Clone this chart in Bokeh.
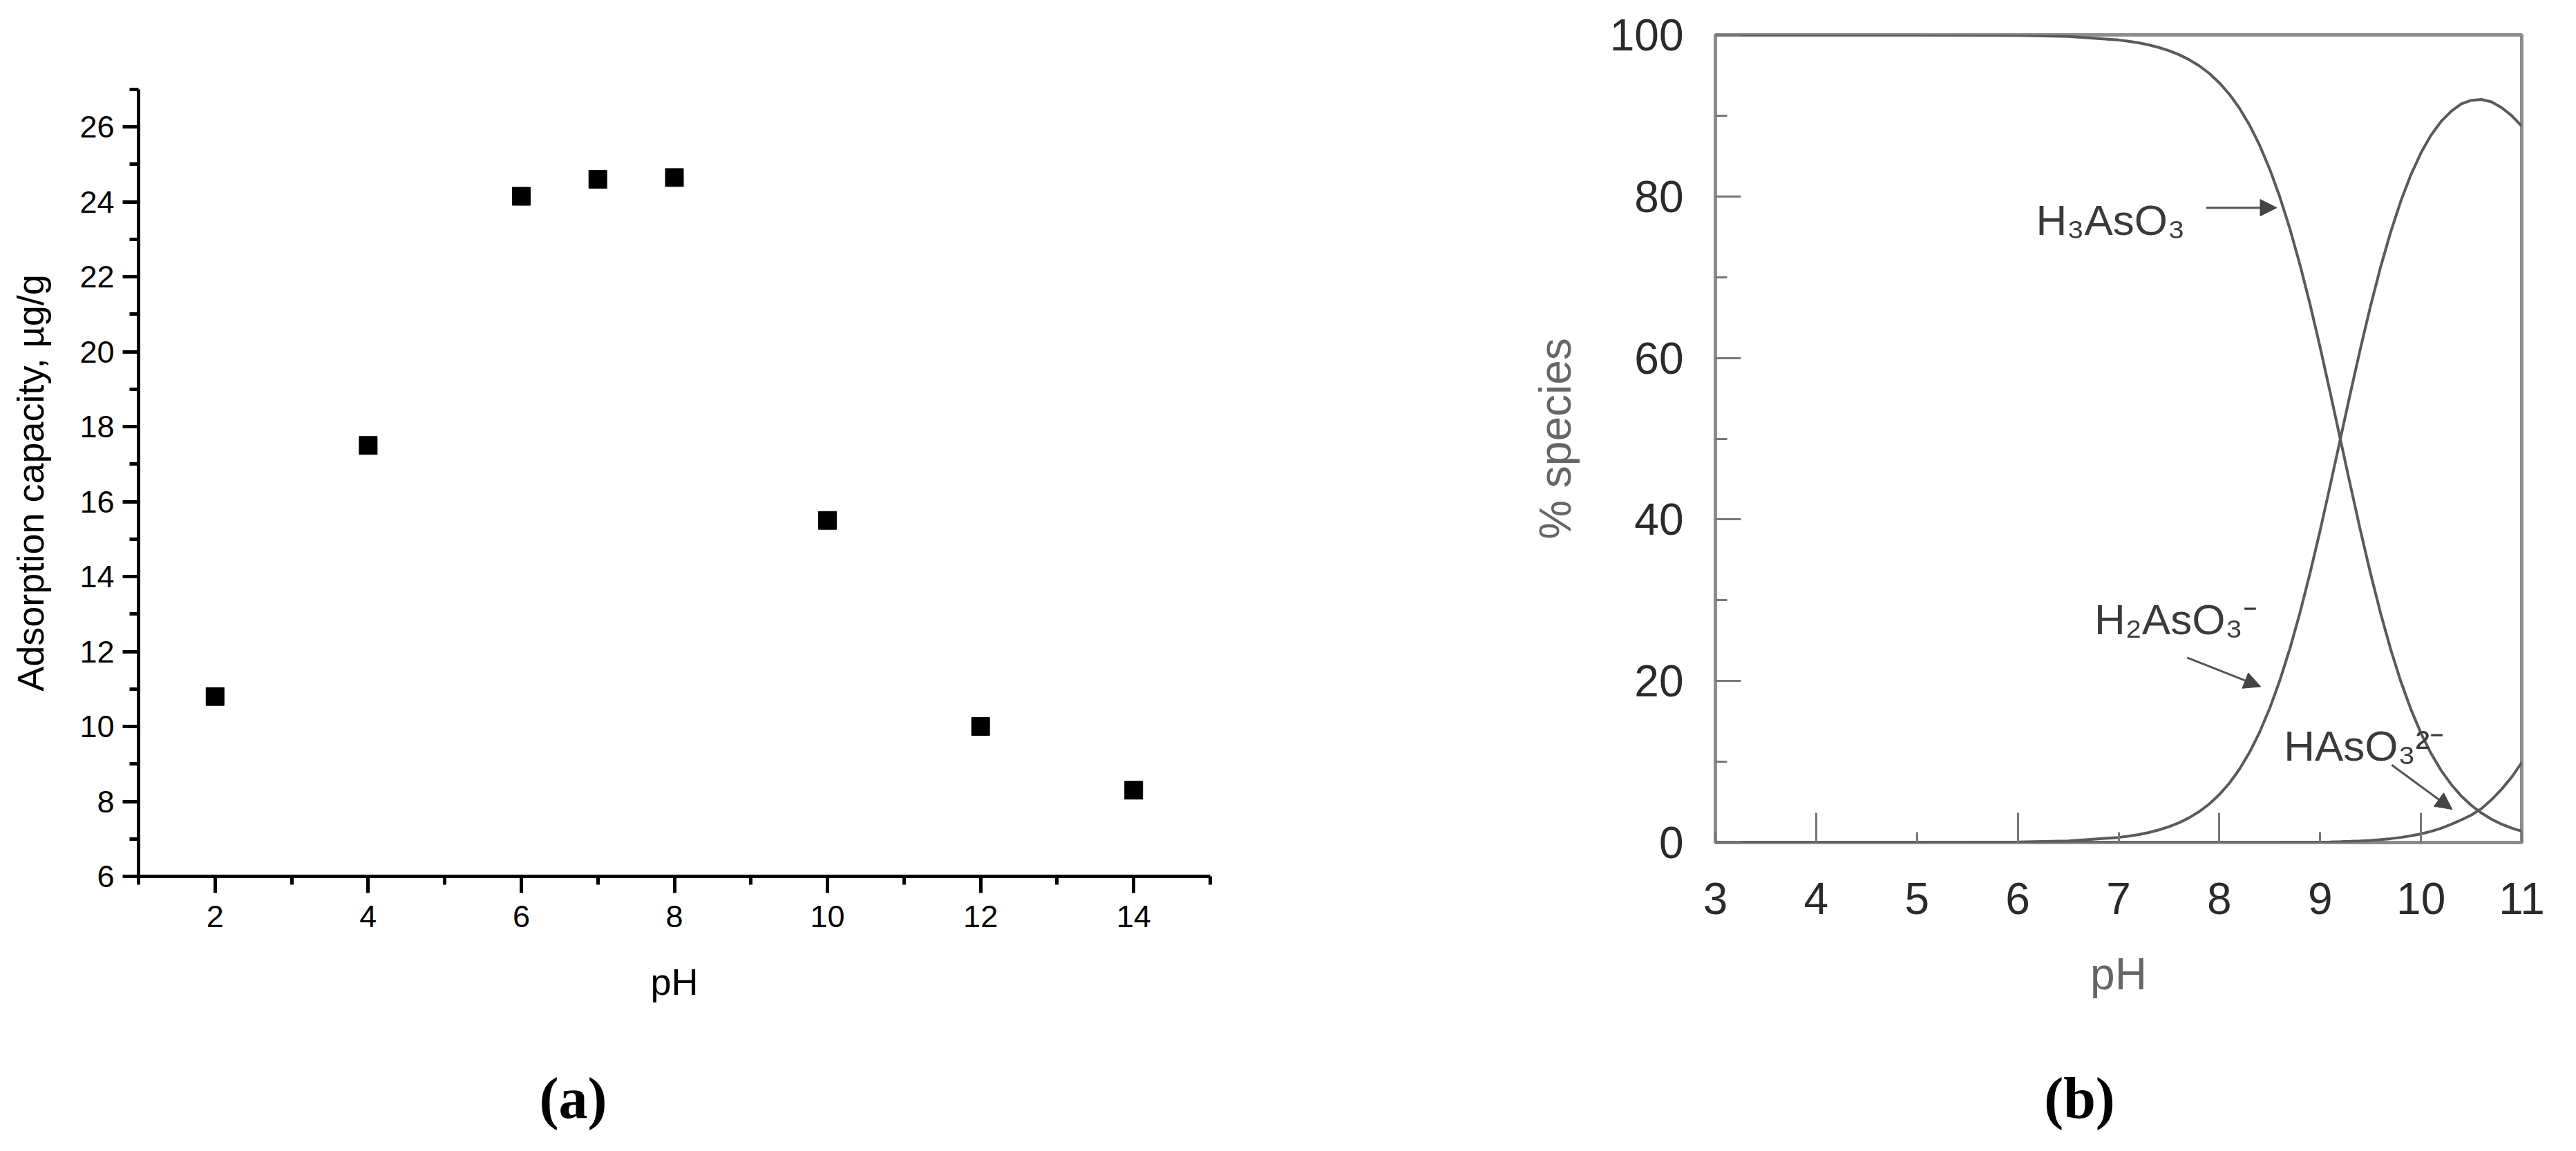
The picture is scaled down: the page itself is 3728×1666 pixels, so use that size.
from bokeh.plotting import figure
from bokeh.layouts import row, column
from bokeh.models import Range1d, FixedTicker, Label, Arrow, NormalHead
from bokeh.embed import file_html
from bokeh.resources import INLINE

# ---------------- Panel (a): adsorption capacity vs pH ----------------
PH_A = [2, 4, 6, 7, 8, 10, 12, 14]
CAPACITY_A = [10.8, 17.5, 24.15, 24.6, 24.65, 15.5, 10.0, 8.3]
XTICKS_A = [2, 4, 6, 8, 10, 12, 14]
XMINOR_A = [1, 3, 5, 7, 9, 11, 13, 15]
YTICKS_A = [6, 8, 10, 12, 14, 16, 18, 20, 22, 24, 26]
YMINOR_A = [7, 9, 11, 13, 15, 17, 19, 21, 23, 25, 27]

# ---------------- Panel (b): arsenite speciation vs pH ----------------
PH_B = [3.0, 4.0, 5.0, 6.0, 6.5, 7.0, 7.1, 7.2, 7.3, 7.4, 7.5, 7.6, 7.7, 7.8, 7.9,
        8.0, 8.1, 8.2, 8.3, 8.4, 8.5, 8.6, 8.7, 8.8, 8.9, 9.0, 9.1, 9.2, 9.3, 9.4,
        9.5, 9.6, 9.7, 9.8, 9.9, 10.0, 10.1, 10.2, 10.3, 10.4, 10.5, 10.6, 10.7,
        10.8, 10.9, 11.0]
H3ASO3 = [100.0, 100.0, 99.99, 99.94, 99.8, 99.37, 99.21, 99.01, 98.76, 98.44,
          98.04, 97.55, 96.93, 96.17, 95.23, 94.06, 92.64, 90.91, 88.82, 86.32,
          83.37, 79.92, 75.97, 71.53, 66.61, 61.31, 55.69, 49.95, 44.21, 38.61,
          33.3, 28.37, 23.91, 19.95, 16.5, 13.53, 11.03, 8.93, 7.19, 5.76,
          4.6, 3.65, 2.89, 2.27, 1.78, 1.4]
H2ASO3 = [0.0, 0.0, 0.01, 0.06, 0.2, 0.63, 0.79, 0.99, 1.24, 1.56,
          1.96, 2.45, 3.07, 3.83, 4.77, 5.94, 7.36, 9.09, 11.18, 13.68,
          16.63, 20.08, 24.03, 28.47, 33.39, 38.64, 44.24, 49.95, 55.65, 61.19,
          66.44, 71.27, 75.61, 79.42, 82.68, 85.39, 87.59, 89.29, 90.54, 91.45,
          91.9, 92.0, 91.7, 91.0, 90.0, 88.7]
HASO3 = [0.0, 0.0, 0.0, 0.0, 0.0, 0.0, 0.0, 0.0, 0.0, 0.0,
         0.0, 0.0, 0.0, 0.0, 0.0, 0.0, 0.0, 0.0, 0.0, 0.0,
         0.0, 0.01, 0.015, 0.02, 0.03, 0.05, 0.07, 0.1, 0.14, 0.19,
         0.26, 0.36, 0.48, 0.63, 0.83, 1.07, 1.38, 1.76, 2.25, 2.8,
         3.4, 4.2, 5.3, 6.6, 8.1, 9.9]
XTICKS_B = [3, 4, 5, 6, 7, 8, 9, 10, 11]
XLONG_B = [4, 6, 8, 10]
YTICKS_B = [0, 20, 40, 60, 80, 100]
YMINOR_B = [10, 30, 50, 70, 90]

CAPTIONS = ["(a)", "(b)"]

SANS = "Liberation Sans"
NARROW = "Liberation Sans Narrow, Arial Narrow, Liberation Sans"
SERIF = "Liberation Serif"

# ======================= figure (a) =======================
pa = figure(width=1900, height=1480, x_range=Range1d(1, 15), y_range=Range1d(6, 27),
            output_backend="svg", toolbar_location=None, frame_align=False,
            min_border_left=200, min_border_right=149,
            min_border_top=129, min_border_bottom=212)
pa.outline_line_color = None
pa.xgrid.visible = False
pa.ygrid.visible = False
pa.background_fill_color = "white"
pa.border_fill_color = "white"

pa.scatter(PH_A, CAPACITY_A, marker="square", size=26, fill_color="black",
           line_color="black")

for ax in (pa.xaxis[0], pa.yaxis[0]):
    ax.axis_line_width = 5
    ax.axis_line_color = "black"
    ax.major_tick_line_width = 5
    ax.minor_tick_line_width = 5
    ax.major_tick_line_color = "black"
    ax.minor_tick_line_color = "black"
    ax.major_tick_in = 0
    ax.minor_tick_in = 0
    ax.major_label_text_font = NARROW
    ax.major_label_text_font_size = "45px"
    ax.major_label_text_color = "black"
    ax.axis_label_text_font = SANS
    ax.axis_label_text_font_size = "54px"
    ax.axis_label_text_font_style = "normal"
    ax.axis_label_text_color = "black"

pa.xaxis[0].ticker = FixedTicker(ticks=XTICKS_A, minor_ticks=XMINOR_A)
pa.xaxis[0].major_tick_out = 24
pa.xaxis[0].minor_tick_out = 12
pa.xaxis[0].major_label_standoff = 18
pa.xaxis[0].axis_label = "pH"
pa.xaxis[0].axis_label_standoff = 46

pa.yaxis[0].ticker = FixedTicker(ticks=YTICKS_A, minor_ticks=YMINOR_A)
pa.yaxis[0].major_tick_out = 23
pa.yaxis[0].minor_tick_out = 13
pa.yaxis[0].major_label_standoff = 12
pa.yaxis[0].axis_label = "Adsorption capacity, \u00b5g/g"
pa.yaxis[0].axis_label_standoff = 38

# ======================= figure (b) =======================
pb = figure(width=1812, height=1480, x_range=Range1d(3, 11), y_range=Range1d(0, 100),
            output_backend="svg", toolbar_location=None, frame_align=False,
            min_border_left=582, min_border_right=63,
            min_border_top=50, min_border_bottom=261)
pb.outline_line_color = "#8c8c8c"
pb.outline_line_width = 5
pb.xgrid.visible = False
pb.ygrid.visible = False
pb.background_fill_color = "white"
pb.border_fill_color = "white"

CURVE = "#5a5a5a"
pb.line(PH_B, H3ASO3, line_color=CURVE, line_width=4)
pb.line(PH_B, H2ASO3, line_color=CURVE, line_width=4)
pb.line(PH_B, HASO3, line_color=CURVE, line_width=4)

for ax in (pb.xaxis[0], pb.yaxis[0]):
    ax.axis_line_color = None
    ax.major_tick_line_color = "#777777"
    ax.minor_tick_line_color = "#777777"
    ax.major_tick_line_width = 3
    ax.minor_tick_line_width = 3
    ax.major_tick_out = 0
    ax.minor_tick_out = 0
    ax.major_label_text_font = SANS
    ax.major_label_text_font_size = "64px"
    ax.major_label_text_color = "#2a2a2a"
    ax.axis_label_text_font = SANS
    ax.axis_label_text_font_size = "64px"
    ax.axis_label_text_font_style = "normal"
    ax.axis_label_text_color = "#666666"

pb.xaxis[0].ticker = FixedTicker(ticks=XTICKS_B, minor_ticks=XLONG_B)
pb.xaxis[0].major_tick_in = 15
pb.xaxis[0].minor_tick_in = 43
pb.xaxis[0].major_label_standoff = 58
pb.xaxis[0].axis_label = "pH"
pb.xaxis[0].axis_label_standoff = 48

pb.yaxis[0].ticker = FixedTicker(ticks=YTICKS_B, minor_ticks=YMINOR_B)
pb.yaxis[0].major_tick_in = 37
pb.yaxis[0].minor_tick_in = 17
pb.yaxis[0].major_label_standoff = 46
pb.yaxis[0].axis_label = "% species"
pb.yaxis[0].axis_label_standoff = 40

ANN = "#3a3a3a"
for txt, tx, ty in (("H\u2083AsO\u2083", 6.18, 77.1),
                    ("H\u2082AsO\u2083\u207b", 6.76, 27.6),
                    ("HAsO\u2083\u00b2\u207b", 8.64, 12.0)):
    pb.add_layout(Label(x=tx, y=ty, text=txt, text_align="left",
                        text_baseline="alphabetic", text_font=SANS,
                        text_font_size="62px", text_color=ANN))

for xs, ys, xe, ye in ((7.87, 78.6, 8.57, 78.6),
                       (7.68, 22.9, 8.41, 19.3),
                       (9.71, 9.6, 10.31, 4.1)):
    pb.add_layout(Arrow(x_start=xs, y_start=ys, x_end=xe, y_end=ye,
                        line_color="#555555", line_width=3,
                        end=NormalHead(size=24, fill_color="#444444",
                                       line_color="#444444", line_width=1)))


# ======================= captions (drawn as axis labels, never clipped) =======================
def caption(width, left, right, label):
    c = figure(width=width, height=170, x_range=Range1d(0, 1), y_range=Range1d(0, 1),
               title=None, output_backend="svg", toolbar_location=None, frame_align=False,
               x_axis_location="below", y_axis_location=None,
               min_border_left=left, min_border_right=right,
               min_border_top=0, min_border_bottom=124)
    c.outline_line_color = None
    c.grid.visible = False
    c.background_fill_color = "white"
    c.border_fill_color = "white"
    ax = c.xaxis[0]
    ax.ticker = FixedTicker(ticks=[], minor_ticks=[])
    ax.axis_line_color = None
    ax.major_tick_line_color = None
    ax.minor_tick_line_color = None
    ax.major_tick_out = 0
    ax.minor_tick_out = 0
    ax.major_tick_in = 0
    ax.minor_tick_in = 0
    ax.major_label_standoff = 0
    ax.axis_label = label
    ax.axis_label_standoff = 16
    ax.axis_label_text_font = SERIF
    ax.axis_label_text_font_style = "bold"
    ax.axis_label_text_font_size = "84px"
    ax.axis_label_text_color = "black"
    return c


ca = caption(1900, 0, 242, CAPTIONS[0])
cb = caption(1812, 406, 0, CAPTIONS[1])

layout = row(column(pa, ca), column(pb, cb))
open("out.html", "w").write(file_html(layout, INLINE))
